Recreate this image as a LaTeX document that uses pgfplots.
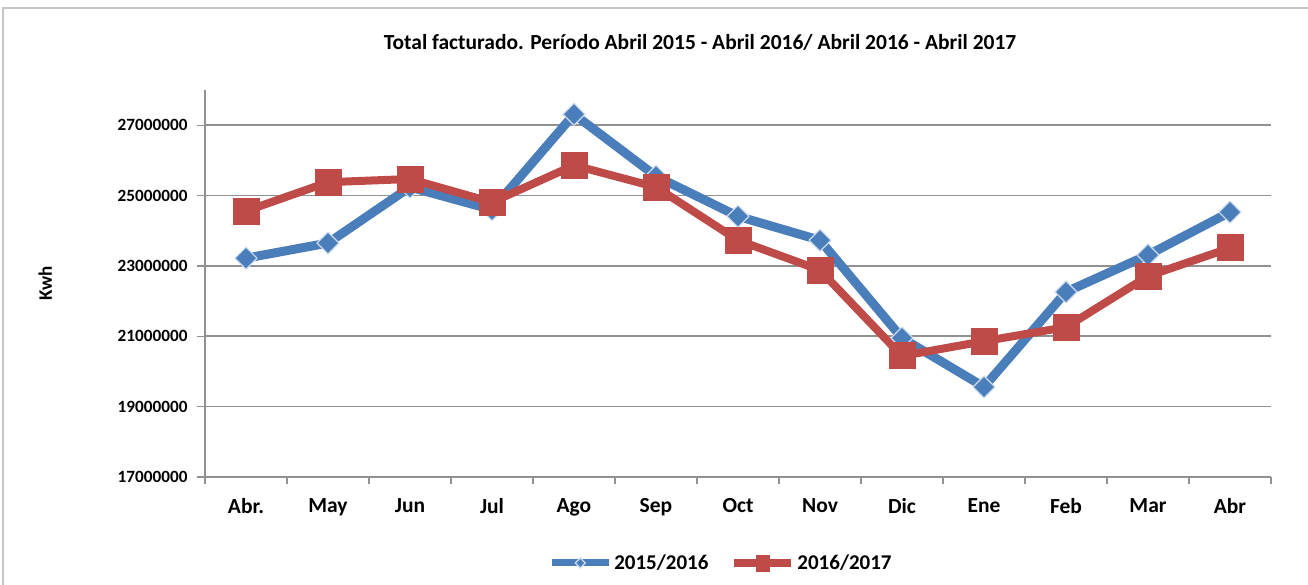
\documentclass[border=0pt]{standalone}
\usepackage{pgfplots}
\pgfplotsset{compat=1.18}
\usepackage{fontspec}
\setmainfont{Carlito}
\definecolor{sblue}{RGB}{74,126,187}
\definecolor{sbluelt}{RGB}{205,220,240}
\definecolor{sred}{RGB}{190,75,72}
\definecolor{gridgray}{RGB}{145,145,145}
\begin{document}
\begin{tikzpicture}
\useasboundingbox (0pt,0pt) rectangle (1308pt,-585pt);
\draw[gray!45, line width=2pt] (3pt,-585pt) -- (3pt,-8pt) -- (1308pt,-8pt);
\node[font=\bfseries\fontsize{21.5}{24}\selectfont] at (700pt,-42pt) {Total facturado. Período Abril 2015 - Abril 2016/ Abril 2016 - Abril 2017};
\begin{axis}[at={(205pt,-477pt)}, anchor=south west, scale only axis,
  width=1066pt, height=387pt,
  xmin=-0.5, xmax=12.5, ymin=17000000, ymax=28000000,
  scaled y ticks=false,
  axis x line*=bottom, axis y line*=left,
  axis line style={-, gridgray, line width=1.2pt},
  ytick={17000000,19000000,21000000,23000000,25000000,27000000},
  yticklabels={17000000,19000000,21000000,23000000,25000000,27000000},
  xtick={0,1,2,3,4,5,6,7,8,9,10,11,12},
  xticklabels={Abr.,May,Jun,Jul,Ago,Sep,Oct,Nov,Dic,Ene,Feb,Mar,Abr},
  minor xtick={-0.5,0.5,1.5,2.5,3.5,4.5,5.5,6.5,7.5,8.5,9.5,10.5,11.5,12.5},
  major x tick style={draw=none},
  minor x tick style={gridgray, line width=1.2pt},
  y tick style={gridgray, line width=1.2pt},
  tick align=outside, major tick length=8pt, minor tick length=7pt,
  ymajorgrids, major grid style={gridgray, line width=1.6pt},
  yticklabel style={font=\bfseries\fontsize{17.2}{20}\selectfont, xshift=-6pt},
  xticklabel style={font=\bfseries\fontsize{21.5}{22}\selectfont, yshift=-10pt},
  ylabel={Kwh},
  every axis y label/.style={at={(axis description cs:-0.150,0.5)}, rotate=90, anchor=center, font=\bfseries\fontsize{19}{20}\selectfont},
  legend columns=2,
  legend style={at={(0.484,-0.222)}, anchor=center, draw=none, fill=none,
    font=\bfseries\fontsize{21}{22}\selectfont,
    /tikz/every even column/.append style={column sep=20pt},
    inner sep=0pt, row sep=0pt},
  legend cell align=left,
  clip=false,
]
\addplot[sblue, line width=9pt, line join=round, mark=square*, mark size=7.8pt,
  mark options={rotate=45, fill=sblue, draw=sbluelt, line width=1.2pt, solid}, forget plot]
  coordinates {(0,23220000) (1,23650000) (2,25240000) (3,24600000) (4,27310000) (5,25550000) (6,24410000) (7,23730000) (8,20950000) (9,19560000) (10,22260000) (11,23310000) (12,24530000)};
\addplot[sred, line width=8pt, line join=round, mark=square*, mark size=13pt,
  mark options={fill=sred, draw=sred, line width=0pt, solid}, forget plot]
  coordinates {(0,24560000) (1,25380000) (2,25470000) (3,24810000) (4,25860000) (5,25240000) (6,23730000) (7,22880000) (8,20440000) (9,20860000) (10,21260000) (11,22710000) (12,23510000)};
\addlegendimage{legend image code/.code={
    \draw[sblue, line width=7pt] (0pt,0pt) -- (57pt,0pt);
    \draw[sbluelt, fill=sblue, line width=1.2pt] (28.5pt,5pt) -- (33.5pt,0pt) -- (28.5pt,-5pt) -- (23.5pt,0pt) -- cycle;
  }}
\addlegendentry{2015/2016}
\addlegendimage{legend image code/.code={
    \draw[sred, line width=8pt] (0pt,0pt) -- (57pt,0pt);
    \fill[sred] (22pt,-8pt) rectangle (35pt,8pt);
  }}
\addlegendentry{2016/2017}
\end{axis}
\end{tikzpicture}
\end{document}
